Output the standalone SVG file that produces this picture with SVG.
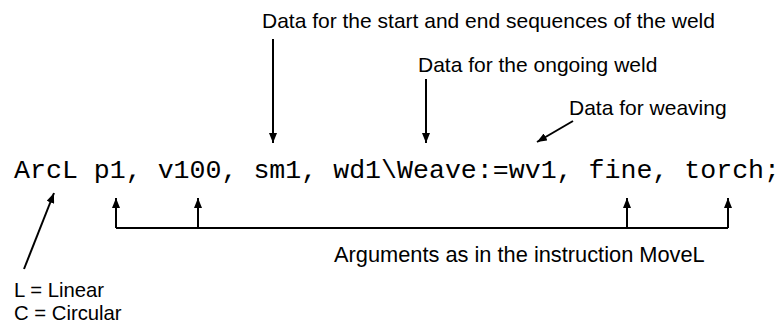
<svg xmlns="http://www.w3.org/2000/svg" width="780" height="324" viewBox="0 0 780 324">
  <style>
    .lbl { font-family: "Liberation Sans", Arial, sans-serif; font-size: 21px; fill: #000; }
    .code { font-family: "Liberation Mono", "Courier New", monospace; font-size: 26.6px; fill: #000; }
    .ln { stroke: #000; stroke-width: 2; fill: none; }
  </style>
  <defs>
    <marker id="ah" viewBox="0 0 10 8" refX="10" refY="4" markerWidth="10" markerHeight="8" markerUnits="userSpaceOnUse" orient="auto">
      <path d="M0,0 L10,4 L0,8 Z" fill="#000"/>
    </marker>
  </defs>
  <rect width="780" height="324" fill="#fff"/>
  <g id="code">
    <text class="code" x="14" y="178">ArcL p1, v100, sm1, wd1\Weave:=wv1, fine, torch;</text>
  </g>
  <g id="label-seam">
    <text class="lbl" x="262" y="28">Data for the start and end sequences of the weld</text>
  </g>
  <g id="label-weld">
    <text class="lbl" x="418" y="72">Data for the ongoing weld</text>
  </g>
  <g id="label-weave">
    <text class="lbl" x="569" y="115">Data for weaving</text>
  </g>
  <g id="label-args">
    <text class="lbl" x="334" y="262" style="font-size:21.8px">Arguments as in the instruction MoveL</text>
  </g>
  <g id="label-type">
    <text class="lbl" x="14" y="297" style="font-size:20.3px">L = Linear</text>
    <text class="lbl" x="14" y="320" style="font-size:20.3px">C = Circular</text>
  </g>
  <g id="connectors">
    <line class="ln" x1="273" y1="39" x2="273" y2="143" marker-end="url(#ah)"/>
    <line class="ln" x1="426" y1="79" x2="426" y2="143" marker-end="url(#ah)"/>
    <line class="ln" x1="573" y1="121" x2="537" y2="142" marker-end="url(#ah)"/>
    <line class="ln" x1="24" y1="269" x2="54" y2="193" marker-end="url(#ah)"/>
    <path class="ln" d="M116,228 H728"/>
    <line class="ln" x1="116" y1="228" x2="116" y2="198" marker-end="url(#ah)"/>
    <line class="ln" x1="198" y1="228" x2="198" y2="198" marker-end="url(#ah)"/>
    <line class="ln" x1="627" y1="228" x2="627" y2="198" marker-end="url(#ah)"/>
    <line class="ln" x1="728" y1="228" x2="728" y2="198" marker-end="url(#ah)"/>
  </g>
</svg>
